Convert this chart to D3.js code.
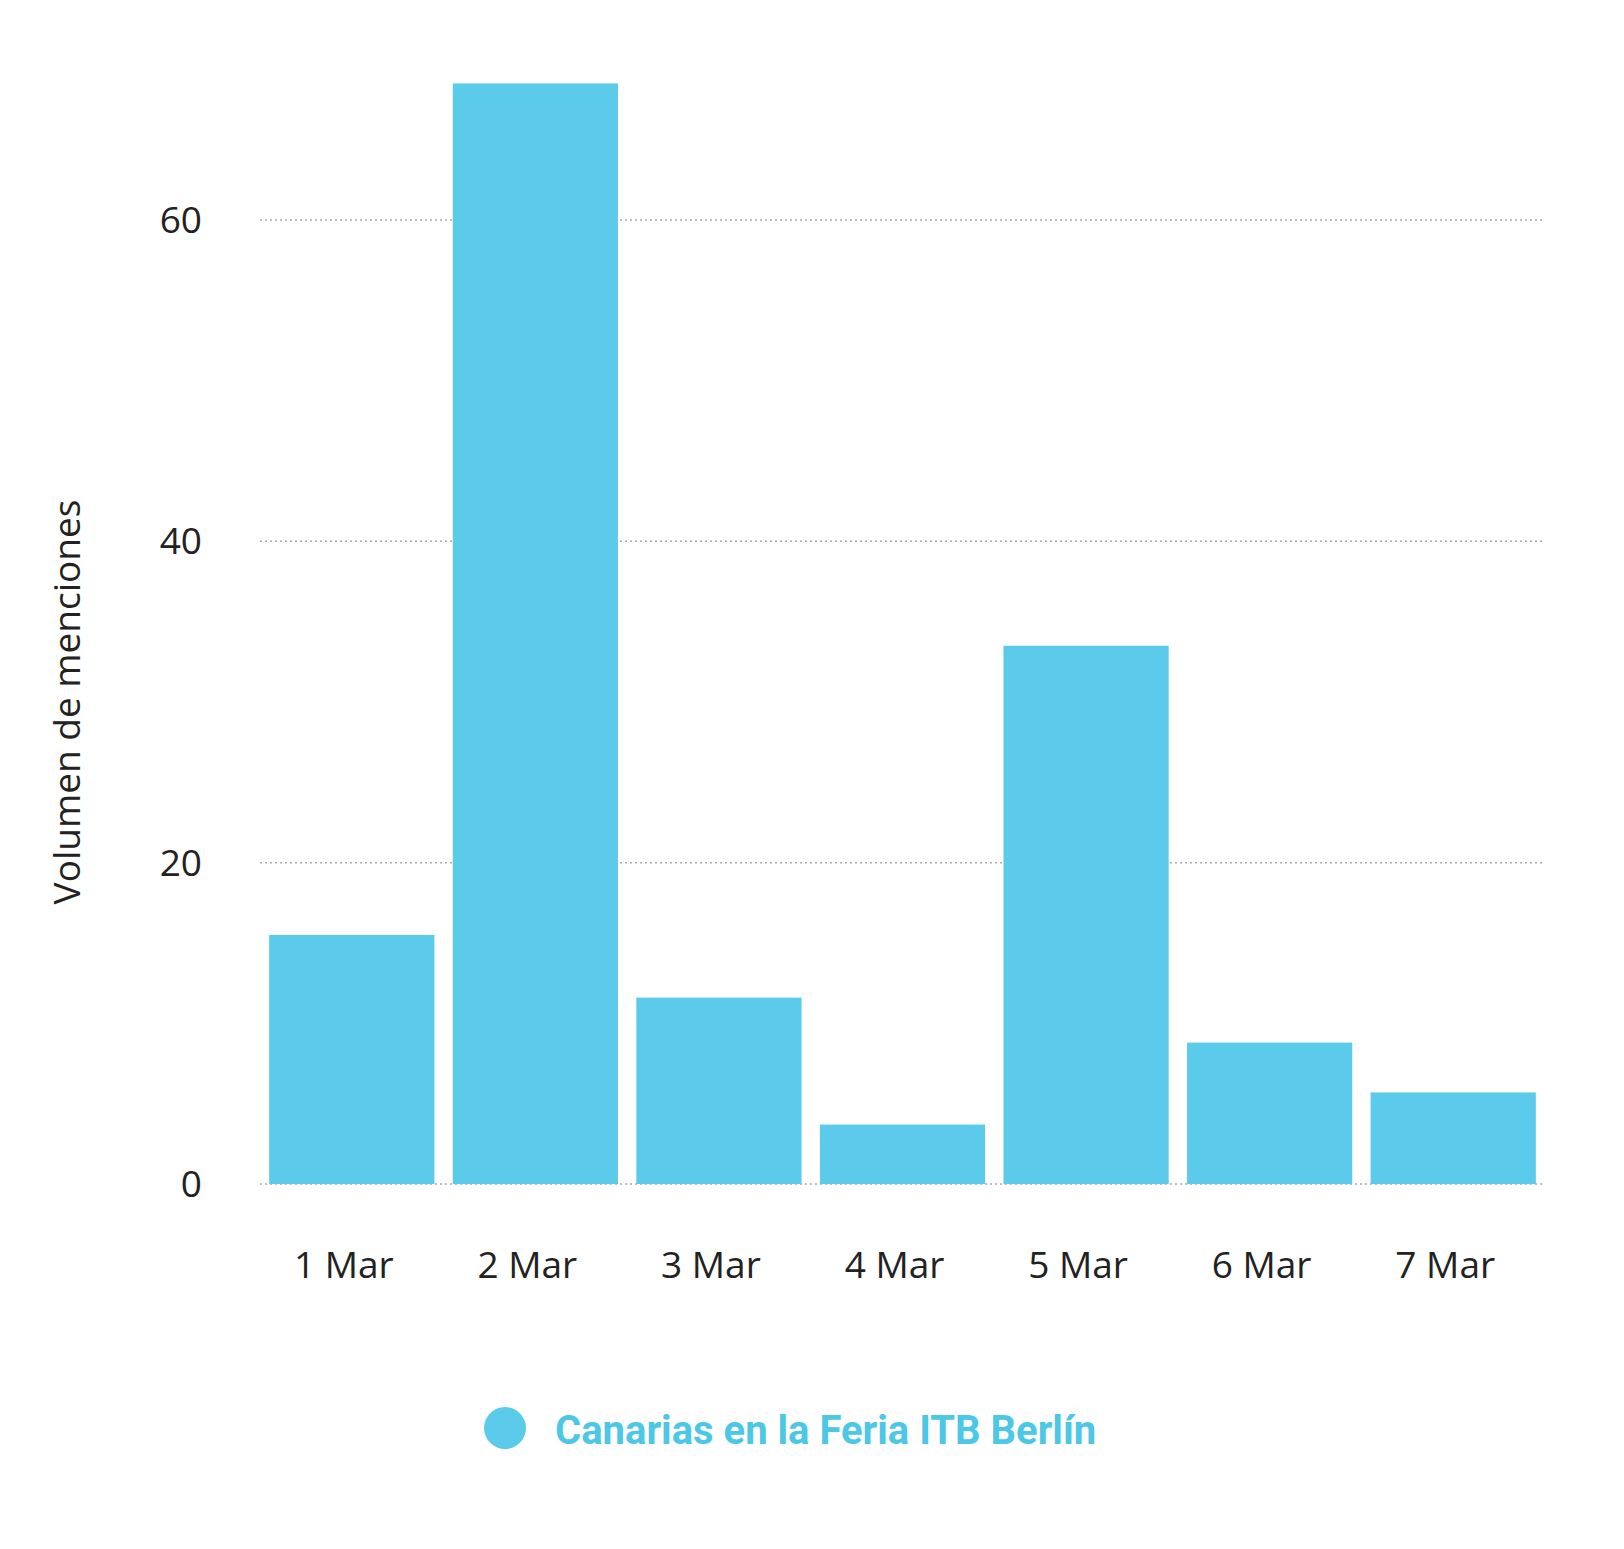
<!DOCTYPE html>
<html><head><meta charset="utf-8">
<script src="https://cdn.jsdelivr.net/npm/d3@7"></script>
<style>body{margin:0;background:#fff}</style></head>
<body><svg id="c" width="1624" height="1549"></svg>
<script>
const categories = ["1 Mar","2 Mar","3 Mar","4 Mar","5 Mar","6 Mar","7 Mar"];
const values = [15.5, 68.5, 11.6, 3.7, 33.5, 8.8, 5.7];
const yTicks = [0, 20, 40, 60];
const seriesName = "Canarias en la Feria ITB Berlín";
const color = "#5ccbeb";

const svg = d3.select("#c");
const x = d3.scaleBand().domain(categories).range([260, 1545]).paddingInner(0.1).paddingOuter(0.05);
const y = d3.scaleLinear().domain([0, 60]).range([1184, 220]);

svg.append("g").selectAll("line").data(yTicks).join("line")
  .attr("x1", 260).attr("x2", 1545).attr("y1", d => y(d)).attr("y2", d => y(d))
  .attr("stroke", "#aaa").attr("stroke-width", 1.5).attr("stroke-dasharray", "2,3");

svg.append("g").selectAll("rect").data(values).join("rect")
  .attr("x", (d, i) => x(categories[i])).attr("width", x.bandwidth())
  .attr("y", d => y(d)).attr("height", d => y(0) - y(d)).attr("fill", color);

svg.append("g").selectAll("text").data(yTicks).join("text")
  .attr("x", 202).attr("y", d => y(d)).attr("dy", "0.35em").attr("text-anchor", "end")
  .attr("font-family", "Open Sans, sans-serif").attr("font-size", 37).attr("fill", "#222").text(d => d);

svg.append("g").selectAll("text").data(categories).join("text")
  .attr("x", d => x(d) + x.bandwidth() / 2 - 8).attr("y", 1265).attr("dy", "0.35em").attr("text-anchor", "middle")
  .attr("font-family", "Open Sans, sans-serif").attr("font-size", 37).attr("fill", "#222").text(d => d);

svg.append("text").attr("transform", "translate(67,702) rotate(-90)").attr("dy", "0.35em")
  .attr("text-anchor", "middle").attr("font-family", "Open Sans, sans-serif").attr("font-size", 37)
  .attr("fill", "#222").text("Volumen de menciones");

svg.append("circle").attr("cx", 505).attr("cy", 1428).attr("r", 21).attr("fill", color);
svg.append("text").attr("x", 555).attr("y", 1430).attr("dy", "0.35em")
  .attr("font-family", "Roboto, sans-serif").attr("font-weight", "bold").attr("font-size", 40)
  .attr("fill", "#4cc7e6").text(seriesName);
</script></body></html>
